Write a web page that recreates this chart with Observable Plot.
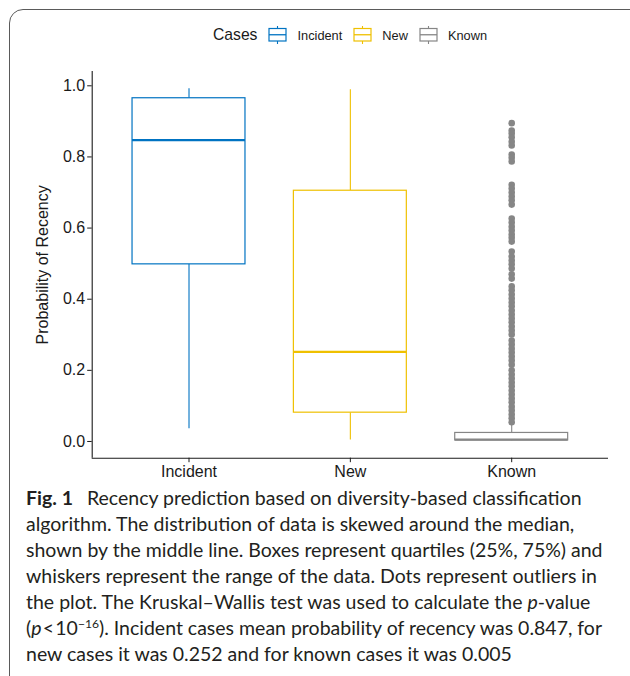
<!DOCTYPE html>
<html>
<head>
<meta charset="utf-8">
<script src="https://cdn.jsdelivr.net/npm/d3@7"></script>
<script src="https://cdn.jsdelivr.net/npm/@observablehq/plot@0.6"></script>
<style>
  html, body { margin: 0; padding: 0; background: #fff; }
  body { width: 630px; height: 676px; position: relative; overflow: hidden; font-family: "Liberation Sans", Arial, Helvetica, sans-serif; }
  #frame { position: absolute; left: 9px; top: 9px; width: 650px; height: 690px; border: 1.3px solid #5a5a5a; border-radius: 14px; box-sizing: border-box; }
  #legend { position: absolute; top: 26px; left: 213px; height: 18px; display: flex; align-items: center; color: #1a1a1a; }
  #legend .title { font-size: 15.7px; margin-right: 11px; }
  #legend .lab { font-size: 12.8px; margin-left: 10px; margin-right: 11px; }
  #legend svg { display: block; }
  #chart { position: absolute; top: 55px; left: 0; }
  #chart svg, #chart svg text { font-size: 16px !important; font-family: "Liberation Sans", Arial, Helvetica, sans-serif !important; }
  #caption { position: absolute; left: 26px; top: 485px; font-family: Lato, "Open Sans", sans-serif; font-size: 19.5px; line-height: 26px; color: #231f20; }
  #caption div { white-space: nowrap; }
  #caption b { margin-right: 9px; }
  #caption sup { font-size: 0.62em; position: relative; top: -0.55em; vertical-align: baseline; line-height: 0; }
</style>
</head>
<body>
<div id="frame"></div>
<div id="legend"></div>
<div id="chart"></div>
<div id="caption">
  <div><b>Fig. 1</b> Recency prediction based on diversity-based classification</div>
  <div>algorithm. The distribution of data is skewed around the median,</div>
  <div>shown by the middle line. Boxes represent quartiles (25%, 75%) and</div>
  <div>whiskers represent the range of the data. Dots represent outliers in</div>
  <div>the plot. The Kruskal–Wallis test was used to calculate the <i>p</i>-value</div>
  <div>(<i>p</i>&#8202;&lt;&#8202;10<sup>−16</sup>). Incident cases mean probability of recency was 0.847, for</div>
  <div>new cases it was 0.252 and for known cases it was 0.005</div>
</div>
<script>
// ---- data ----
const legendTitle = "Cases";
const categories = ["Incident", "New", "Known"];
const colors = ["#0073C2", "#EFC000", "#868686"];
const lower = [0.036, 0.004, 0.002];
const q1 = [0.498, 0.081, 0.003];
const median = [0.847, 0.252, 0.005];
const q3 = [0.965, 0.705, 0.024];
const upper = [0.992, 0.989, 0.050];
const knownOutliers = [
  0.895, 0.874, 0.866, 0.855, 0.843, 0.832, 0.807, 0.798, 0.787,
  0.722, 0.711, 0.700, 0.689, 0.678, 0.666,
  0.627, 0.616, 0.604, 0.593, 0.582, 0.573, 0.562,
  0.534, 0.520, 0.509, 0.498, 0.486, 0.470, 0.458,
  0.436, 0.425, 0.413, 0.402, 0.391, 0.380, 0.368, 0.357, 0.346, 0.335, 0.323, 0.312, 0.301,
  0.284, 0.273, 0.261, 0.250, 0.239, 0.228, 0.216,
  0.200, 0.188, 0.177, 0.166, 0.155, 0.143, 0.132, 0.121, 0.110, 0.098, 0.087, 0.076, 0.065, 0.054
];
const yTicks = [0.0, 0.2, 0.4, 0.6, 0.8, 1.0];
const yLabel = "Probability of Recency";
const xDomain = [0.4, 3.6];
const yDomain = [-0.047, 1.0402];

// ---- tables ----
const stats = categories.map((name, i) => ({
  name, pos: i + 1, lower: lower[i], q1: q1[i], median: median[i], q3: q3[i], upper: upper[i]
}));
const outliers = knownOutliers.map(v => ({ name: "Known", pos: categories.indexOf("Known") + 1, value: v }));
const halfWidth = 0.35;

// ---- legend ----
const legend = document.getElementById("legend");
const t = document.createElement("span");
t.className = "title"; t.textContent = legendTitle;
legend.appendChild(t);
categories.forEach((c, i) => {
  const ns = "http://www.w3.org/2000/svg";
  const s = document.createElementNS(ns, "svg");
  s.setAttribute("width", 19); s.setAttribute("height", 18);
  const col = colors[i];
  s.innerHTML =
    `<line x1="9.5" x2="9.5" y1="0" y2="18" stroke="${col}" stroke-width="1.1"/>` +
    `<rect x="1" y="2.5" width="17" height="12.5" fill="white" stroke="${col}" stroke-width="1.2"/>` +
    `<line x1="1" x2="18" y1="8.75" y2="8.75" stroke="${col}" stroke-width="1.3"/>`;
  legend.appendChild(s);
  const l = document.createElement("span");
  l.className = "lab"; l.textContent = c;
  legend.appendChild(l);
});

// ---- chart ----
const chart = Plot.plot({
  width: 630,
  height: 430,
  marginTop: 16,
  marginBottom: 27.3,
  marginLeft: 91.7,
  marginRight: 22,
  style: { fontFamily: '"Liberation Sans", Arial, Helvetica, sans-serif', fontSize: "16px", color: "#1a1a1a", background: "transparent" },
  x: { domain: xDomain, axis: null },
  y: { domain: yDomain, axis: null },
  color: { domain: categories, range: colors },
  marks: [
    Plot.axisY({ ticks: yTicks, tickFormat: d3.format(".1f"), tickSize: 4.5, tickPadding: 2.5, label: null, stroke: "#1a1a1a" }),
    Plot.axisX({ ticks: stats.map(d => d.pos), tickFormat: p => categories[p - 1], tickSize: 4.5, tickPadding: 2.5, label: null, stroke: "#1a1a1a" }),
    Plot.ruleX([xDomain[0]], { y1: yDomain[0], y2: yDomain[1], stroke: "#1a1a1a", strokeWidth: 1.1 }),
    Plot.ruleY([yDomain[0]], { x1: xDomain[0], x2: xDomain[1], stroke: "#1a1a1a", strokeWidth: 1.1 }),
    Plot.text([yLabel], { frameAnchor: "left", textAnchor: "middle", rotate: -90, dx: -49, fill: "#1a1a1a" }),
    Plot.ruleX(stats, { x: "pos", y1: "lower", y2: "q1", stroke: "name", strokeWidth: 1.1 }),
    Plot.ruleX(stats, { x: "pos", y1: "q3", y2: "upper", stroke: "name", strokeWidth: 1.1 }),
    Plot.rect(stats, { x1: d => d.pos - halfWidth, x2: d => d.pos + halfWidth, y1: "q1", y2: "q3", fill: "white", stroke: "name", strokeWidth: 1.2 }),
    Plot.ruleY(stats, { y: "median", x1: d => d.pos - halfWidth, x2: d => d.pos + halfWidth, stroke: "name", strokeWidth: 2.3 }),
    Plot.dot(outliers, { x: "pos", y: "value", fill: "name", r: 3.3, stroke: null })
  ]
});
document.getElementById("chart").appendChild(chart);
</script>
</body>
</html>
